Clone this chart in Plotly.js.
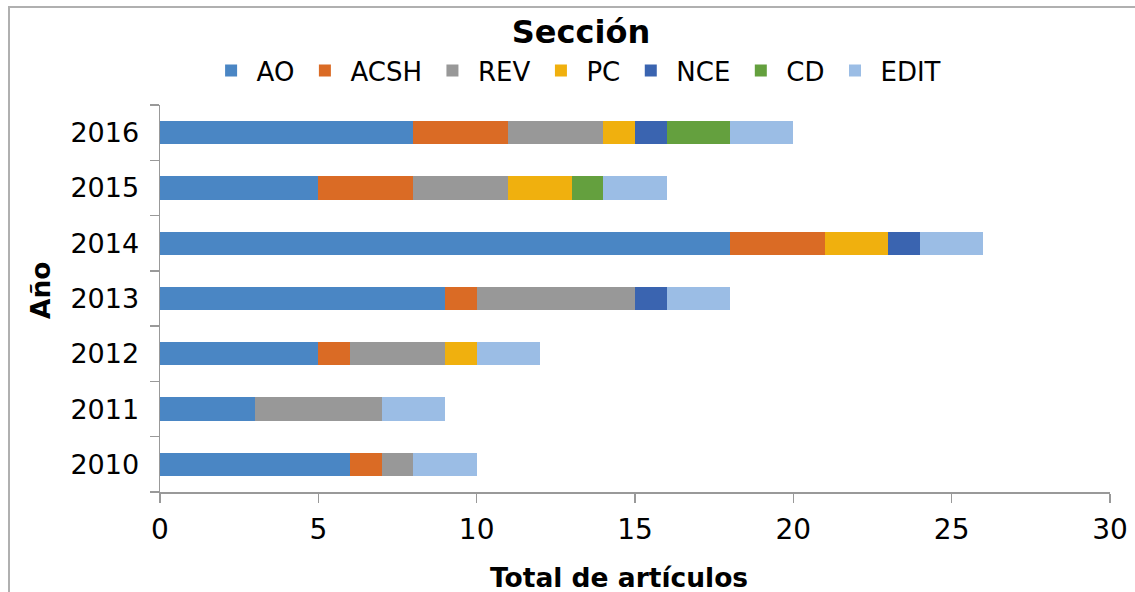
<!DOCTYPE html>
<html><head><meta charset="utf-8">
<script src="https://cdn.plot.ly/plotly-3.0.1.min.js"></script>
<style>
html,body{margin:0;padding:0;background:#fff;overflow:hidden;}
#frame{position:absolute;left:8px;top:6px;width:1200px;height:700px;border-left:2px solid #b0b0b0;border-top:2px solid #b0b0b0;pointer-events:none;z-index:5;}
#chart{width:1135px;height:592px;}
</style></head>
<body>
<div id="frame"></div>
<div id="chart"></div>
<script>
const years = ['2010','2011','2012','2013','2014','2015','2016'];
const seriesNames = ['AO','ACSH','REV','PC','NCE','CD','EDIT'];
const AO   = [6, 3, 5, 9, 18, 5, 8];
const ACSH = [1, 0, 1, 1, 3, 3, 3];
const REV  = [1, 4, 3, 5, 0, 3, 3];
const PC   = [0, 0, 1, 0, 2, 2, 1];
const NCE  = [0, 0, 0, 1, 1, 0, 1];
const CD   = [0, 0, 0, 0, 0, 1, 2];
const EDIT = [2, 2, 2, 2, 2, 2, 2];
const colors = ['#4a86c4','#da6b25','#989898','#f0b00e','#3a64b0','#64a03e','#9bbde5'];
const values = [AO, ACSH, REV, PC, NCE, CD, EDIT];
const xTitle = 'Total de artículos';
const yTitle = 'Año';

const traces = seriesNames.map((n,i)=>({
  type:'bar', orientation:'h', name:n, y:years, x:values[i],
  marker:{color:colors[i], line:{width:0}}, hoverinfo:'x+name'
}));

const font = "DejaVu Sans, Verdana, sans-serif";
const layout = {
  width:1135, height:592,
  margin:{l:160, r:25, t:105, b:100},
  barmode:'stack', bargap:0.58,
  paper_bgcolor:'#fff', plot_bgcolor:'#fff',
  font:{family:font, color:'#000', size:26},
  title:{text:'<b>Sección</b>', x:581/1135, xanchor:'center', y:1-32/592, yref:'container', yanchor:'middle', font:{family:font, size:32, color:'#000'}},
  legend:{orientation:'h', x:0.438, xanchor:'center', y:1-47/592, yref:'container', yanchor:'top', traceorder:'normal',
    font:{family:font, size:26, color:'#000'}, itemwidth:41, tracegroupgap:0},
  xaxis:{range:[0,30], dtick:5, tick0:0, showgrid:false, zeroline:false, showline:true, linecolor:'#999', linewidth:1.5,
    ticks:'outside', ticklen:9, tickcolor:'#999', tickwidth:1.5, tickfont:{size:28, family:font}, ticklabelstandoff:3},
  yaxis:{type:'category', showgrid:false, zeroline:false, showline:true, linecolor:'#999', linewidth:1.5,
    ticks:'outside', tickson:'boundaries', ticklen:9, tickcolor:'#999', tickwidth:1.5, tickfont:{size:27, family:font}, ticklabelstandoff:14},
  annotations:[
    {text:'<b>'+xTitle+'</b>', xref:'paper', yref:'paper', x:(619-160)/950, y:-(577-492)/387, xanchor:'center', yanchor:'middle', showarrow:false, font:{size:26.5, family:font, color:'#000'}},
    {text:'<b>'+yTitle+'</b>', xref:'paper', yref:'paper', x:-(160-40)/950, y:(492-290)/387, xanchor:'center', yanchor:'middle', textangle:-90, showarrow:false, font:{size:26.5, family:font, color:'#000'}}
  ]
};
Plotly.newPlot('chart', traces, layout, {displayModeBar:false, staticPlot:true});
</script>
</body></html>
